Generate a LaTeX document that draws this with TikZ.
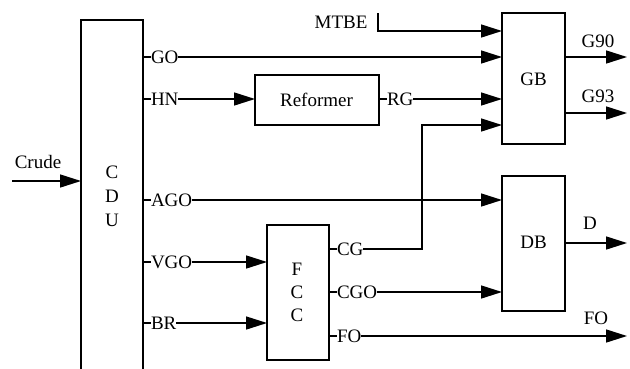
\documentclass[tikz,border=0pt]{standalone}
\usepackage{fontspec}
\setmainfont{Liberation Serif}
\usetikzlibrary{arrows.meta}
\begin{document}
\begin{tikzpicture}[x=1pt,y=-1pt,
  box/.style={draw,line width=1.5pt,inner sep=0pt,outer sep=0pt},
  lbl/.style={inner sep=0pt,outer sep=0pt,anchor=west,font=\fontsize{19}{21}\selectfont},
  txt/.style={inner sep=0pt,font=\fontsize{19}{21}\selectfont},
  ln/.style={line width=1.5pt},
  arr/.style={line width=1.5pt,-{Triangle[length=21pt,width=13pt]}}]
\useasboundingbox (0,0) rectangle (630,368);
% boxes
\node[box,minimum width=62pt,minimum height=352pt] (cdu) at (112,196) {};
\node[box,minimum width=124pt,minimum height=50pt] (ref) at (317,100) {};
\node[box,minimum width=63pt,minimum height=131pt] (gb) at (533.5,78.5) {};
\node[box,minimum width=63pt,minimum height=135pt] (db) at (533.5,243.5) {};
\node[box,minimum width=62pt,minimum height=135pt] (fcc) at (298,292.5) {};
% box texts
\node[txt] (c1) at (112,172) {C};
\node[txt] (c2) at (112,196.5) {D};
\node[txt] (c3) at (112,220.5) {U};
\node[txt] (reft) at (316.5,99.5) {Reformer};
\node[txt] (gbt) at (533.5,79) {GB};
\node[txt] (dbt) at (533.5,242.5) {DB};
\node[txt] (f1) at (297,269) {F};
\node[txt] (f2) at (297,292) {C};
\node[txt] (f3) at (297,315.5) {C};
% stream labels
\node[lbl] (go) at (151,57) {GO};
\node[lbl] (hn) at (151,99) {HN};
\node[lbl] (ago) at (151,200) {AGO};
\node[lbl] (vgo) at (151,262) {VGO};
\node[lbl] (br) at (151,323) {BR};
\node[lbl] (rg) at (387,99) {RG};
\node[lbl] (cg) at (337,249) {CG};
\node[lbl] (cgo) at (337,292) {CGO};
\node[lbl] (fo) at (337,336) {FO};
\node[txt] (crude) at (38,162) {Crude};
\node[txt] (mtbe) at (341,22) {MTBE};
\node[txt] (g90) at (598,41) {G90};
\node[txt] (g93) at (598,96) {G93};
\node[txt] (d) at (590,223) {D};
\node[txt] (fol) at (596,318) {FO};
% coordinates
\coordinate (crs) at (12,181);
\coordinate (mt) at (378,13);
\coordinate (mtin) at (378,31);
\coordinate (cgturn) at (422,125);
\coordinate (g90e) at (627,57);
\coordinate (g93e) at (627,113);
\coordinate (de) at (627,243);
\coordinate (foe) at (627,336);
% ticks
\foreach \n in {go,hn,ago,vgo,br}{\draw[ln] (\n.west -| cdu.east) -- (\n.west);}
\draw[ln] (rg.west -| ref.east) -- (rg.west);
\foreach \n in {cg,cgo,fo}{\draw[ln] (\n.west -| fcc.east) -- (\n.west);}
% connectors
\draw[arr] (crs) -- (crs -| cdu.west);
\draw[arr] (go.east) -- (go.east -| gb.west);
\draw[arr] (hn.east) -- (hn.east -| ref.west);
\draw[arr] (rg.east) -- (rg.east -| gb.west);
\draw[arr] (mt) -- (mtin) -- (mtin -| gb.west);
\draw[arr] (cg.east) -| (cgturn) -- (cgturn -| gb.west);
\draw[arr] (ago.east) -- (ago.east -| db.west);
\draw[arr] (vgo.east) -- (vgo.east -| fcc.west);
\draw[arr] (br.east) -- (br.east -| fcc.west);
\draw[arr] (cgo.east) -- (cgo.east -| db.west);
\draw[arr] (fo.east) -- (foe);
\draw[arr] (g90e -| gb.east) -- (g90e);
\draw[arr] (g93e -| gb.east) -- (g93e);
\draw[arr] (de -| db.east) -- (de);
\end{tikzpicture}
\end{document}
